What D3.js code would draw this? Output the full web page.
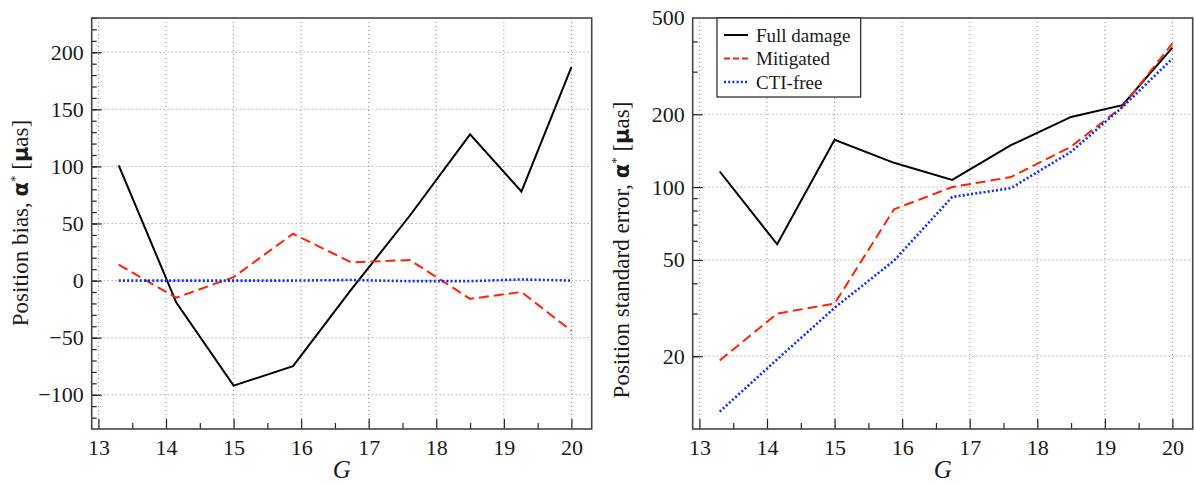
<!DOCTYPE html>
<html>
<head>
<meta charset="utf-8">
<script src="https://cdn.jsdelivr.net/npm/d3@7"></script>
<style>
body { margin: 0; background: #fff; }
text { font-family: "Liberation Serif", "DejaVu Serif", serif; fill: #1a1a1a; }
.sans { font-family: "DejaVu Sans", sans-serif; font-weight: bold; }
</style>
</head>
<body>
<div id="chart"></div>
<script>
// data
var G = [13.3, 14.15, 15.0, 15.88, 16.74, 17.61, 18.5, 19.26, 20.0];
var biasFull = [101, -19, -92, -75, -8, 57, 128, 78, 187];
var biasMitigated = [14, -15, 3, 41, 16, 18, -16, -10, -44];
var biasCtiFree = [0, 0, 0, 0, 0.5, -0.5, -0.5, 1, 0];
var errFull = [116, 58, 157, 126, 107, 149, 195, 218, 377];
var errMitigated = [19.2, 30, 33, 81, 100, 110, 147, 215, 393];
var errCtiFree = [11.8, 19.4, 31.7, 49.7, 91, 99, 140, 214, 340];
var xTicks = [13, 14, 15, 16, 17, 18, 19, 20];
var xMinor = [13.5, 14.5, 15.5, 16.5, 17.5, 18.5, 19.5];
var biasTicks = [-100, -50, 0, 50, 100, 150, 200];
var biasMinor = d3.range(-120, 231, 10);
var errTicks = [20, 50, 100, 200, 500];
var errMinor = [20, 30, 40, 60, 70, 80, 90, 300, 400];
var names = ["Full damage", "Mitigated", "CTI-free"];

var colors = ["#000000", "#ff2200", "#0a2cff"];
var dashes = [null, "10,5", "2,2.2"];
var widths = [2, 2, 2.6];
var serif = "'Liberation Serif', 'DejaVu Serif', serif";

var svg = d3.select("#chart").append("svg")
    .attr("width", 1194)
    .attr("height", 485);

var width = 500, height = 411;

function panel(left, y, yTicks, yMinor, series, labelParts, labelY) {
  var x = d3.scaleLinear().domain([12.9, 20.3]).range([0, width]);

  var g = svg.append("g")
      .attr("transform", "translate(" + left + ",18)");

  // grid
  g.selectAll(".vgrid").data(xTicks).enter().append("line")
      .attr("x1", function(d) { return x(d); })
      .attr("x2", function(d) { return x(d); })
      .attr("y1", 0).attr("y2", height)
      .style("stroke", "#8a8a8a").style("stroke-dasharray", "1,3");
  g.selectAll(".hgrid").data(yTicks).enter().append("line")
      .attr("x1", 0).attr("x2", width)
      .attr("y1", function(d) { return y(d); })
      .attr("y2", function(d) { return y(d); })
      .style("stroke", "#8a8a8a").style("stroke-dasharray", "1,3");

  // x axis, ticks pointing inward
  var xa = g.append("g")
      .attr("transform", "translate(0," + height + ")")
      .call(d3.axisBottom(x).tickValues(xTicks).tickSize(-10).tickPadding(10).tickFormat(d3.format("d")));
  xa.select(".domain").remove();
  var xm = g.append("g")
      .attr("transform", "translate(0," + height + ")")
      .call(d3.axisBottom(x).tickValues(xMinor).tickSize(-6).tickFormat(""));
  xm.select(".domain").remove();

  // y axis
  var ya = g.append("g")
      .call(d3.axisLeft(y).tickValues(yTicks).tickSize(-10).tickPadding(8).tickFormat(d3.format("d")));
  ya.select(".domain").remove();
  var ym = g.append("g")
      .call(d3.axisLeft(y).tickValues(yMinor).tickSize(-5).tickFormat(""));
  ym.select(".domain").remove();
  g.selectAll(".tick line").style("stroke", "#222").style("stroke-width", 1.2);
  g.selectAll(".tick text")
      .style("font-family", serif)
      .style("font-size", "22px")
      .attr("fill", "#1a1a1a");

  // lines
  var line = d3.line()
      .x(function(d, i) { return x(G[i]); })
      .y(function(d) { return y(d); });
  series.forEach(function(s, i) {
    g.append("path")
        .datum(s)
        .attr("d", line)
        .style("fill", "none")
        .style("stroke", colors[i])
        .style("stroke-width", widths[i])
        .style("stroke-dasharray", dashes[i]);
  });

  // frame
  g.append("rect")
      .attr("width", width).attr("height", height)
      .style("fill", "none").style("stroke", "#444").style("stroke-width", 1.6);

  // axis labels
  g.append("text")
      .attr("x", width / 2)
      .attr("y", 460)
      .attr("text-anchor", "middle")
      .style("font-size", "25px")
      .style("font-style", "italic")
      .text("G");

  var yl = g.append("text")
      .attr("transform", "translate(" + (-64) + "," + labelY + ") rotate(-90)")
      .attr("text-anchor", "middle")
      .style("font-size", "23px");
  yl.append("tspan").text(labelParts + ", ");
  yl.append("tspan").attr("class", "sans").style("font-size", "21px").text("\u03b1");
  yl.append("tspan").attr("dy", -9).style("font-size", "13px").text("*");
  yl.append("tspan").attr("dy", 9).text(" [");
  yl.append("tspan").attr("class", "sans").style("font-size", "21px").text("\u03bc");
  yl.append("tspan").text("as]");

  return g;
}

var yBias = d3.scaleLinear().domain([-130, 230]).range([height, 0]);
panel(91.7, yBias, biasTicks, biasMinor, [biasFull, biasMitigated, biasCtiFree], "Position bias", 205);

var yErr = d3.scaleLog().domain([10, 500]).range([height, 0]);
var right = panel(692.7, yErr, errTicks.slice(0, 4), errMinor, [errFull, errMitigated, errCtiFree], "Position standard error", 232);
// label for 500 at the top edge
right.append("text")
    .attr("x", -8).attr("y", yErr(500))
    .attr("dy", "0.32em")
    .attr("text-anchor", "end")
    .style("font-size", "22px")
    .text(errTicks[4]);

// legend
var legend = right.append("g").attr("transform", "translate(24.3,0)");
legend.append("rect")
    .attr("width", 143.7).attr("height", 79)
    .style("fill", "#fff").style("stroke", "#222").style("stroke-width", 1.2);
names.forEach(function(n, i) {
  var yy = 17 + i * 23.5;
  legend.append("line")
      .attr("x1", 7).attr("x2", 31)
      .attr("y1", yy).attr("y2", yy)
      .style("stroke", colors[i])
      .style("stroke-width", widths[i])
      .style("stroke-dasharray", i == 1 ? "6,3" : dashes[i]);
  legend.append("text")
      .attr("x", 39).attr("y", yy)
      .attr("dy", "0.35em")
      .style("font-size", "19px")
      .text(n);
});
</script>
</body>
</html>
